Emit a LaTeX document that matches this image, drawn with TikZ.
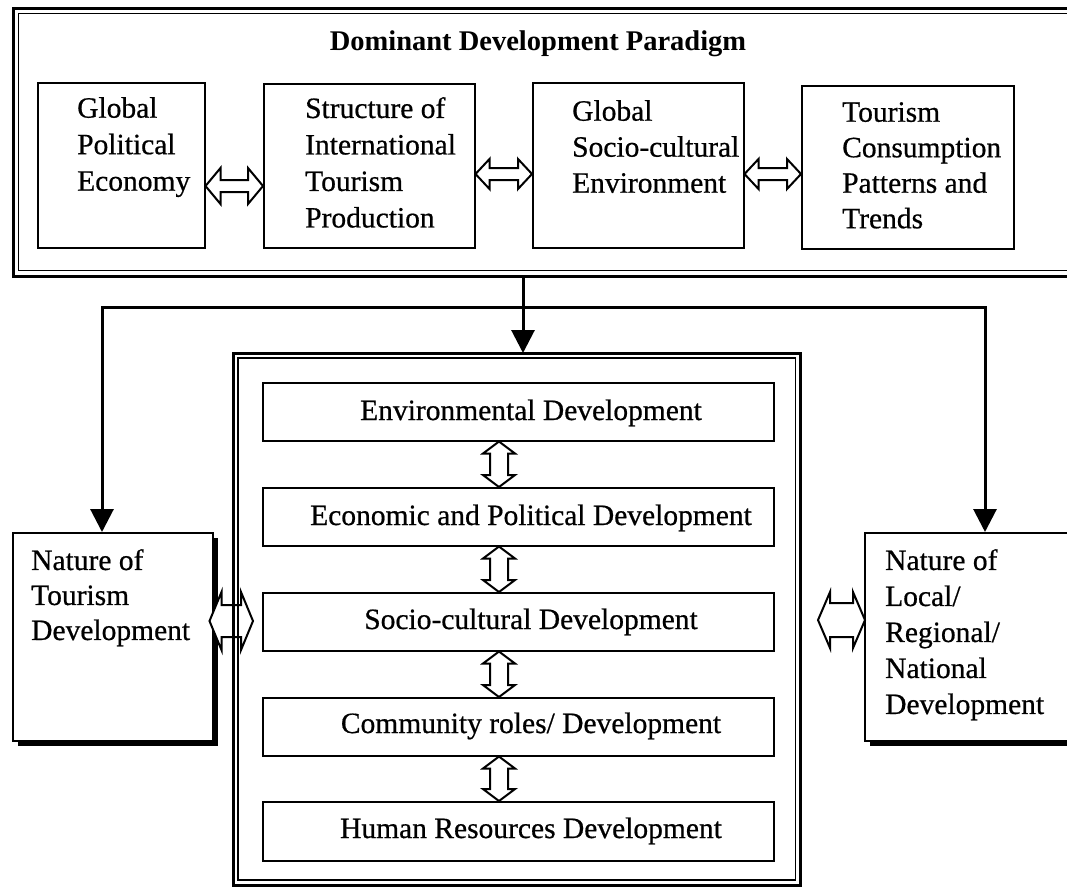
\documentclass[tikz,border=0pt]{standalone}
\usepackage{fontspec}
\setmainfont[FakeBold=0.6]{Liberation Serif}
\newfontfamily\plainfont{Liberation Serif}
\usetikzlibrary{arrows.meta,shadows,calc}
\tikzset{
  boxx/.style={draw, line width=1.5pt, anchor=north west, inner sep=0pt, fill=white},
  shbox/.style={boxx, drop shadow={shadow xshift=5pt, shadow yshift=-5pt, fill=black, opacity=1}},
  frame/.style={draw, line width=3pt, anchor=north west, inner sep=0pt},
  innerline/.style={line width=1.2pt},
  txt/.style={anchor=north west, inner sep=0pt, align=left, font=\fontsize{29.5}{36.5}\selectfont},
  ctxt/.style={anchor=base, inner sep=0pt, font=\fontsize{29.5}{34}\selectfont},
  conn/.style={line width=3pt},
  tip/.style={-{Triangle[length=23pt,width=23pt]}},
  blk/.style={draw, line width=2pt, fill=white, line join=miter},
}
% horizontal block double arrow: #1 left point, #2 right point, #3 y (px down), #4 head length, #5 head half, #6 shaft half
\newcommand\hdbl[6]{%
  \path[blk] let \p1=(#1), \p2=(#2), \p3=(0,#3) in
   (\x1,\y3) -- (\x1+#4pt,\y3+#5pt) -- (\x1+#4pt,\y3+#6pt) -- (\x2-#4pt,\y3+#6pt)
   -- (\x2-#4pt,\y3+#5pt) -- (\x2,\y3) -- (\x2-#4pt,\y3-#5pt) -- (\x2-#4pt,\y3-#6pt)
   -- (\x1+#4pt,\y3-#6pt) -- (\x1+#4pt,\y3-#5pt) -- cycle;}
% vertical block double arrow: #1 upper point, #2 lower point, #3 x, #4 head length, #5 head half, #6 shaft half
\newcommand\vdbl[6]{%
  \path[blk] let \p1=(#1), \p2=(#2), \p3=(#3,0) in
   (\x3,\y1) -- (\x3+#5pt,\y1-#4pt) -- (\x3+#6pt,\y1-#4pt) -- (\x3+#6pt,\y2+#4pt)
   -- (\x3+#5pt,\y2+#4pt) -- (\x3,\y2) -- (\x3-#5pt,\y2+#4pt) -- (\x3-#6pt,\y2+#4pt)
   -- (\x3-#6pt,\y1-#4pt) -- (\x3-#5pt,\y1-#4pt) -- cycle;}
\begin{document}
\begin{tikzpicture}[x=1pt,y=-1pt]
\useasboundingbox (0,0) rectangle (1067,887);

% ---------- top frame ----------
\node[frame, minimum width=1100pt, minimum height=268pt] (top) at (11.5,6.5) {};
\draw[innerline] (18.5,13.5) rectangle (1095,270.5);
\node[anchor=base, inner sep=0pt, font=\plainfont\bfseries\fontsize{28.5}{30}\selectfont] (title) at (538,50) {Dominant Development Paradigm};

\node[boxx, minimum width=167pt, minimum height=165pt] (b1) at (37,82) {};
\node[boxx, minimum width=211pt, minimum height=164pt] (b2) at (263,83) {};
\node[boxx, minimum width=211pt, minimum height=165pt] (b3) at (532,82) {};
\node[boxx, minimum width=212pt, minimum height=163pt] (b4) at (801,85) {};

\node[txt] (t1) at (77,97) {Global\\Political\\Economy};
\node[txt] (t2) at (305,97) {Structure of\\International\\Tourism\\Production};
\node[txt, font=\fontsize{29.5}{36}\selectfont] (t3) at (572,100) {Global\\Socio-cultural\\Environment};
\node[txt, font=\fontsize{29.5}{35.5}\selectfont] (t4) at (842,102) {Tourism\\Consumption\\Patterns and\\Trends};

\hdbl{b1.east}{b2.west}{186}{15}{18}{6}
\hdbl{b2.east}{b3.west}{174}{14}{15}{6}
\hdbl{b3.east}{b4.west}{174}{14}{15}{6}

% ---------- side boxes ----------
\node[shbox, minimum width=200pt, minimum height=208pt] (lbox) at (12,532) {};
\node[shbox, minimum width=240pt, minimum height=208pt] (rbox) at (864,532) {};
\node[txt, font=\fontsize{29.5}{35}\selectfont] (lt) at (31,549) {Nature of\\Tourism\\Development};
\node[txt, font=\fontsize{29.5}{36}\selectfont] (rt) at (885,549) {Nature of\\Local/\\Regional/\\National\\Development};

% ---------- centre frame (placed, drawn after the left arrow) ----------
\node[anchor=north west, inner sep=0pt, outer sep=0pt, minimum width=567pt, minimum height=532pt] (cbox) at (233,353) {};

% ---------- connectors ----------
\coordinate (j) at (523,307);
\coordinate (jl) at (102,307);
\coordinate (jr) at (985,307);

\hdbl{[xshift=-4pt]lbox.east}{[xshift=20pt]cbox.west}{621}{12}{29}{16}

\draw[line width=3pt] (cbox.north west) rectangle (cbox.south east);
\draw[innerline] (238,358) rectangle (795.5,880);

\hdbl{[xshift=18pt]cbox.east}{[xshift=1pt]rbox.west}{620}{12}{28}{17}

\node[boxx, minimum width=511pt, minimum height=58pt] (e1) at (262,382) {};
\node[boxx, minimum width=511pt, minimum height=58pt] (e2) at (262,487) {};
\node[boxx, minimum width=511pt, minimum height=58pt] (e3) at (262,592) {};
\node[boxx, minimum width=511pt, minimum height=58pt] (e4) at (262,697) {};
\node[boxx, minimum width=511pt, minimum height=59pt] (e5) at (262,801) {};

\node[ctxt] (c1) at (531,420) {Environmental Development};
\node[ctxt] (c2) at (531,525) {Economic and Political Development};
\node[ctxt] (c3) at (531,629) {Socio-cultural Development};
\node[ctxt] (c4) at (531,733) {Community roles/ Development};
\node[ctxt] (c5) at (531,838) {Human Resources Development};

\vdbl{e1.south}{e2.north}{499}{12}{16}{9}
\vdbl{e2.south}{e3.north}{499}{12}{16}{9}
\vdbl{e3.south}{e4.north}{499}{12}{16}{9}
\vdbl{e4.south}{e5.north}{499}{12}{16}{9}

\draw[conn, tip] (j |- top.south) -- (j |- cbox.north);
\draw[conn, {Triangle[length=23pt,width=23pt]}-{Triangle[length=23pt,width=23pt]}]
  (jl |- lbox.north) -- (jl) -- (jr) -- (jr |- rbox.north);
\end{tikzpicture}
\end{document}
